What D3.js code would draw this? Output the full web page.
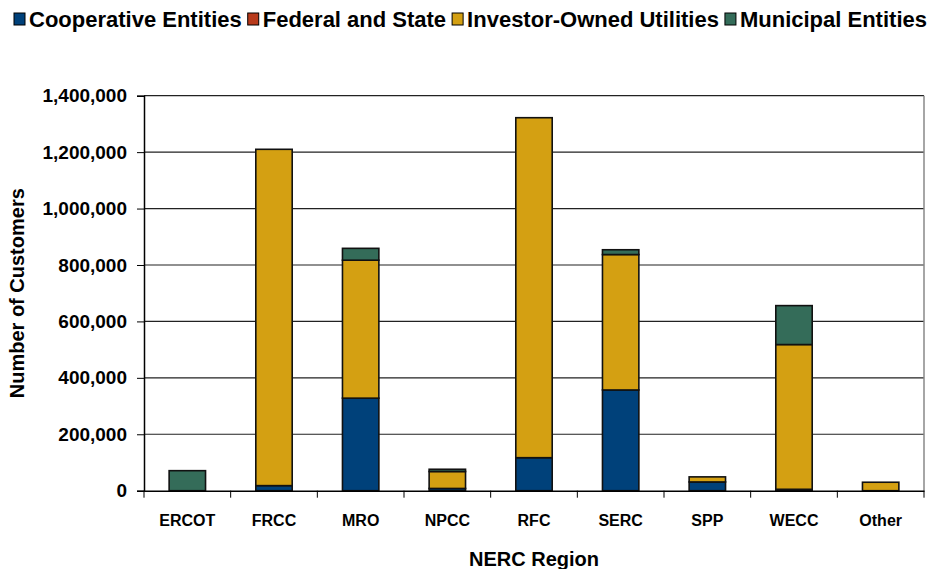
<!DOCTYPE html>
<html>
<head>
<meta charset="utf-8">
<script src="https://cdn.jsdelivr.net/npm/d3@7"></script>
<style>
  body { margin: 0; background: #fff; }
  text { font-family: "Liberation Sans", Arial, sans-serif; font-weight: bold; fill: #000; }
</style>
</head>
<body>
<div id="content"></div>
<script>
var width = 930,
    height = 569;
var margin = { top: 95.7, right: 6, bottom: 78.3, left: 144 };

// data
var regions = ["ERCOT", "FRCC", "MRO", "NPCC", "RFC", "SERC", "SPP", "WECC", "Other"];
var seriesNames = ["Cooperative Entities", "Federal and State", "Investor-Owned Utilities", "Municipal Entities"];
var cooperative = [0, 18000, 328000, 8000, 117000, 357000, 31000, 5000, 0];
var federal = [0, 0, 0, 0, 0, 0, 0, 0, 0];
var investorOwned = [0, 1192000, 489000, 60000, 1205000, 480000, 18000, 513000, 30000];
var municipal = [71000, 0, 42000, 8000, 0, 17000, 0, 138000, 0];
var yTicks = [0, 200000, 400000, 600000, 800000, 1000000, 1200000, 1400000];

var colors = ["#00417A", "#B83A1B", "#D4A012", "#346C59"];

var table = regions.map(function (r, i) {
    return { region: r, s0: cooperative[i], s1: federal[i], s2: investorOwned[i], s3: municipal[i] };
});

var svg = d3.select("#content")
    .append("svg")
    .attr("width", width)
    .attr("height", height);

var x = d3.scaleBand()
    .domain(regions)
    .range([margin.left, width - margin.right])
    .padding(0);

var y = d3.scaleLinear()
    .domain([0, 1400000])
    .range([height - margin.bottom, margin.top]);

// grid lines
svg.append("g")
    .selectAll("line")
    .data(yTicks.slice(1))
    .enter()
    .append("line")
    .attr("x1", margin.left)
    .attr("x2", width - margin.right)
    .attr("y1", function (d) { return y(d); })
    .attr("y2", function (d) { return y(d); })
    .attr("stroke", "#222")
    .attr("stroke-width", 1.2);

// right border
svg.append("line")
    .attr("x1", width - margin.right).attr("x2", width - margin.right)
    .attr("y1", margin.top).attr("y2", height - margin.bottom)
    .attr("stroke", "#888").attr("stroke-width", 1.5);

// stacked bars
var stack = d3.stack().keys(["s0", "s1", "s2", "s3"]);
var layers = stack(table);
var barW = x.bandwidth() * 0.42;

svg.append("g")
    .selectAll("g")
    .data(layers)
    .enter()
    .append("g")
    .attr("fill", function (d, i) { return colors[i]; })
    .selectAll("rect")
    .data(function (d) { return d.filter(function (p) { return p[1] - p[0] > 0; }); })
    .enter()
    .append("rect")
    .attr("x", function (d) { return x(d.data.region) + (x.bandwidth() - barW) / 2; })
    .attr("width", barW)
    .attr("y", function (d) { return y(d[1]); })
    .attr("height", function (d) { return y(d[0]) - y(d[1]); })
    .attr("stroke", "#111")
    .attr("stroke-width", 1.6);

// y axis
var yAxis = svg.append("g")
    .attr("transform", "translate(" + margin.left + ",0)")
    .call(d3.axisLeft(y).tickValues(yTicks).tickFormat(d3.format(",")).tickSize(7).tickPadding(10));
yAxis.select(".domain").attr("stroke", "#000").attr("stroke-width", 1.5);
yAxis.selectAll(".tick line").attr("stroke", "#000");
yAxis.selectAll("text").style("font-size", "19px").style("font-family", "Liberation Sans, Arial, sans-serif").style("font-weight", "bold");

// x axis
var xAxis = svg.append("g")
    .attr("transform", "translate(0," + (height - margin.bottom) + ")")
    .call(d3.axisBottom(x).tickSize(0).tickPadding(24));
xAxis.select(".domain").attr("stroke", "#000").attr("stroke-width", 1.5);
xAxis.selectAll("text").style("font-size", "16px").style("font-family", "Liberation Sans, Arial, sans-serif").style("font-weight", "bold");

// category boundary ticks
svg.append("g")
    .selectAll("line")
    .data(regions.concat(["end"]))
    .enter()
    .append("line")
    .attr("x1", function (d, i) { return margin.left + i * x.step(); })
    .attr("x2", function (d, i) { return margin.left + i * x.step(); })
    .attr("y1", height - margin.bottom)
    .attr("y2", height - margin.bottom + 7)
    .attr("stroke", "#000");

// axis titles
svg.append("text")
    .attr("x", (margin.left + width - margin.right) / 2)
    .attr("y", 566)
    .attr("text-anchor", "middle")
    .style("font-size", "20px")
    .text("NERC Region");

svg.append("text")
    .attr("transform", "translate(24," + (margin.top + (height - margin.bottom)) / 2 + ") rotate(-90)")
    .attr("text-anchor", "middle")
    .style("font-size", "20px")
    .text("Number of Customers");

// legend
var legend = svg.append("g").attr("transform", "translate(14,19)");
var lx = 0;
seriesNames.forEach(function (name, i) {
    var g = legend.append("g").attr("transform", "translate(" + lx + ",0)");
    g.append("rect")
        .attr("x", 0).attr("y", -6)
        .attr("width", 11).attr("height", 12)
        .attr("fill", colors[i])
        .attr("stroke", "#000").attr("stroke-width", 1);
    var t = g.append("text")
        .attr("x", 15)
        .attr("y", 8)
        .style("font-size", "22px")
        .text(name);
    lx += 15 + t.node().getComputedTextLength() + 6;
});
</script>
</body>
</html>
